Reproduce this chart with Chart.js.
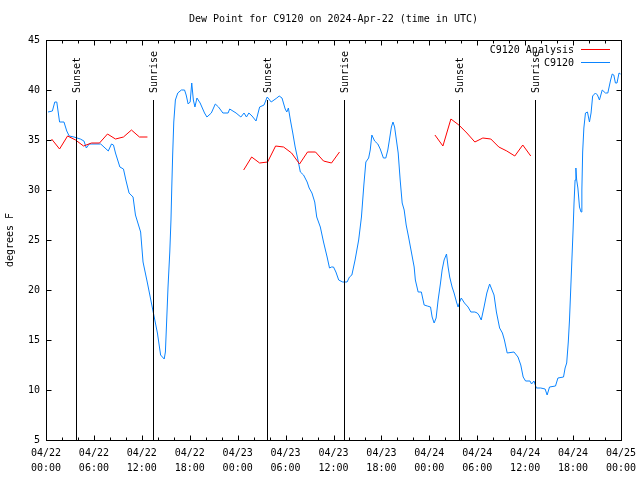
<!DOCTYPE html>
<html>
<head>
<meta charset="utf-8">
<title>Dew Point for C9120</title>
<script src="https://cdn.jsdelivr.net/npm/chart.js@4.4.1/dist/chart.umd.min.js"></script>
<style>
    body { margin: 0; background: #fff; }
    #wrap { width: 640px; height: 480px; }
</style>
</head>
<body>
<div id="wrap"><canvas id="dewChart" width="640" height="480"></canvas></div>
<script>
// hours since 04/22 00:00 UTC
const analysisHours = [0.7, 1.7, 2.7, 3.7, 4.7, 5.7, 6.7, 7.7, 8.7, 9.7, 10.7, 11.7, 12.7,
    18,
    24.75, 25.75, 26.75, 27.75, 28.75, 29.75, 30.75, 31.75, 32.75, 33.75, 34.75, 35.75, 36.75,
    42,
    48.7, 49.7, 50.7, 51.7, 52.7, 53.7, 54.7, 55.7, 56.7, 57.7, 58.7, 59.7, 60.7];
const analysisValues = [35.1, 34.1, 35.4, 35.0, 34.4, 34.7, 34.7, 35.6, 35.1, 35.3, 36.0, 35.3, 35.3,
    null,
    32.0, 33.3, 32.7, 32.8, 34.4, 34.3, 33.7, 32.6, 33.8, 33.8, 32.9, 32.7, 33.8,
    null,
    35.5, 34.4, 37.1, 36.5, 35.7, 34.8, 35.2, 35.1, 34.3, 33.9, 33.4, 34.5, 33.4];

const stationHours = [0.25, 0.8, 1.1, 1.35, 1.7, 2.25, 2.6, 2.9, 3.5, 4.3, 4.75, 5.05, 5.4, 6.85, 7.8, 8.2, 8.45, 8.7,
    9.25, 9.7, 10.0, 10.4, 10.9, 11.2, 11.85, 12.15, 12.7, 13.2, 13.55, 13.95, 14.35, 14.8, 14.95, 15.1, 15.28,
    15.5, 15.65, 15.75, 15.86, 16.0, 16.2, 16.5, 16.95, 17.35, 17.55, 17.8, 18.05, 18.25, 18.45, 18.65, 18.9,
    19.3, 19.85, 20.15, 20.7, 21.2, 21.6, 22.15, 22.8, 23.0, 23.8, 24.4, 24.8, 25.1, 25.4, 25.8, 26.3, 26.75,
    27.3, 27.7, 28.2, 28.9, 29.2, 29.55, 29.95, 30.15, 30.35, 30.6, 30.9, 31.2, 31.55, 31.85, 32.25, 32.7,
    32.95, 33.3, 33.65, 33.9, 34.35, 34.75, 35.2, 35.5, 35.75, 36.0, 36.3, 36.65, 37.15, 37.7, 38.0, 38.3,
    38.7, 39.15, 39.5, 39.8, 40.05, 40.4, 40.6, 40.8, 41.15, 41.55, 41.85, 42.25, 42.55, 42.8, 43.0, 43.25,
    43.45, 43.65, 44.1, 44.35, 44.6, 44.85, 45.1, 45.4, 45.75, 46.1, 46.25, 46.6, 47.0, 47.35, 47.75, 48.15,
    48.35, 48.6, 48.85, 49.1, 49.4, 49.6, 49.85, 50.15, 50.35, 50.55, 50.85, 51.1, 51.4, 51.6, 51.8, 52.0,
    52.4, 52.85, 53.2, 53.7, 54.0, 54.2, 54.5, 54.85, 55.2, 55.55, 55.85, 56.1, 56.4, 56.6, 56.8, 57.15,
    57.4, 57.75, 58.6, 59.1, 59.45, 59.75, 60.05, 60.6, 60.8, 61.1, 61.4, 61.95, 62.5, 62.75, 63.05, 63.8,
    64.1, 64.8, 65.0, 65.2, 65.4, 65.55, 65.7, 65.85, 66.0, 66.12, 66.25, 66.35, 66.45, 66.6, 66.8, 67.0,
    67.1, 67.2, 67.35, 67.55, 67.8, 68.05, 68.25, 68.45, 68.8, 69.05, 69.3, 69.65, 70.05, 70.35, 70.7,
    70.9, 71.1, 71.3, 71.5, 71.75, 71.95];
const stationValues = [37.8, 37.9, 38.8, 38.8, 36.8, 36.8, 35.9, 35.4, 35.3, 35.1, 34.9, 34.2, 34.6, 34.6, 33.9, 34.6, 34.5, 33.7,
    32.3, 32.1, 31.0, 29.7, 29.3, 27.5, 25.8, 22.8, 20.7, 18.7, 17.3, 15.7, 13.5, 13.1, 13.8, 16.7, 20.3,
    23.8, 27.0, 30.3, 33.5, 36.8, 39.0, 39.7, 40.0, 40.0, 39.5, 38.6, 38.8, 40.7, 39.0, 38.3, 39.2,
    38.7, 37.7, 37.3, 37.7, 38.6, 38.3, 37.7, 37.7, 38.1, 37.7, 37.3, 37.7, 37.3, 37.7, 37.4, 36.9, 38.3,
    38.5, 39.3, 38.8, 39.2, 39.4, 39.2, 38.1, 37.8, 38.2, 37.0, 35.7, 34.3, 33.0, 31.8, 31.5, 30.8,
    30.2, 29.7, 28.8, 27.3, 26.3, 24.8, 23.3, 22.2, 22.3, 22.3, 21.8, 21.0, 20.8, 20.8, 21.3, 21.5,
    23.0, 25.0, 27.3, 30.5, 32.8, 33.2, 34.0, 35.5, 34.9, 34.6, 34.1, 33.2, 33.2, 34.0, 35.0, 36.3,
    36.8, 36.3, 33.7, 31.0, 28.7, 28.0, 26.5, 25.3, 23.8, 22.3, 21.0, 19.8, 19.8, 18.5, 18.4, 18.3,
    17.3, 16.7, 17.2, 19.0, 20.7, 22.0, 23.0, 23.6, 22.3, 21.3, 20.3, 19.7, 18.8, 18.3, 18.8, 19.2,
    18.7, 18.3, 17.8, 17.8, 17.7, 17.5, 17.0, 18.3, 19.7, 20.6, 20.0, 19.5, 17.8, 17.0, 16.2, 15.7,
    15.0, 13.7, 13.8, 13.3, 12.5, 11.3, 10.9, 10.9, 10.6, 10.9, 10.2, 10.2, 10.1, 9.5, 10.3, 10.4,
    11.2, 11.3, 12.2, 12.7, 14.8, 17.0, 20.0, 23.0, 26.0, 28.7, 31.0, 32.2, 31.0, 30.2, 28.3, 27.8,
    30.0, 33.8, 36.2, 37.7, 37.8, 36.8, 37.7, 39.4, 39.7, 39.5, 39.0, 40.0, 39.7, 39.7, 41.0,
    41.6, 41.5, 40.7, 40.7, 41.7, 41.6];

// sunset / sunrise markers, hours since 04/22 00:00
const eventHours = [3.7, 13.38, 27.68, 37.3, 51.7, 61.23];
const eventLabels = ["Sunset", "Sunrise", "Sunset", "Sunrise", "Sunset", "Sunrise"];

const yTicks = [5, 10, 15, 20, 25, 30, 35, 40, 45];
const chartTitle = "Dew Point for C9120 on 2024-Apr-22 (time in UTC)";
const yTitle = "degrees F";

const monoFont = "'DejaVu Sans Mono', 'Liberation Mono', monospace";

function to_points(xs, ys) {
    return xs.map((x, i) => ({ x: x, y: ys[i] }));
}

function tick_label(value) {
    const day = 22 + Math.floor(value / 24);
    const hour = value % 24;
    return ["04/" + day, String(hour).padStart(2, "0") + ":00"];
}

// frame, inward ticks, sun markers, legend and titles in gnuplot style
const decorPlugin = {
    id: "decor",
    afterDatasetsDraw(chart) {
        const ctx = chart.ctx;
        const area = chart.chartArea;
        const xs = chart.scales.x;
        const ys = chart.scales.y;
        const L = Math.round(area.left) + 0.5;
        const R = Math.round(area.right) + 0.5;
        const T = Math.round(area.top) + 0.5;
        const B = Math.round(area.bottom) + 0.5;

        ctx.save();
        ctx.strokeStyle = "#000";
        ctx.lineWidth = 1;

        // sunset / sunrise lines
        ctx.font = "10px " + monoFont;
        ctx.fillStyle = "#000";
        eventHours.forEach((h, i) => {
            const px = Math.round(xs.getPixelForValue(h)) + 0.5;
            ctx.beginPath();
            ctx.moveTo(px, 100);
            ctx.lineTo(px, B);
            ctx.stroke();
            ctx.save();
            ctx.translate(px + 1, 93);
            ctx.rotate(-Math.PI / 2);
            ctx.textAlign = "left";
            ctx.textBaseline = "middle";
            ctx.fillText(eventLabels[i], 0, 0);
            ctx.restore();
        });

        // border
        ctx.strokeRect(L, T, R - L, B - T);

        // y ticks on both sides
        ctx.beginPath();
        yTicks.forEach(v => {
            const py = Math.round(ys.getPixelForValue(v)) + 0.5;
            ctx.moveTo(L, py); ctx.lineTo(L + 5, py);
            ctx.moveTo(R, py); ctx.lineTo(R - 5, py);
        });
        // x ticks every 2 hours, longer every 6
        for (let h = 0; h <= 72; h += 2) {
            const px = Math.round(xs.getPixelForValue(h)) + 0.5;
            const len = h % 6 === 0 ? 5 : 3;
            ctx.moveTo(px, B); ctx.lineTo(px, B - len);
            ctx.moveTo(px, T); ctx.lineTo(px, T + len);
        }
        ctx.stroke();

        // legend, text right aligned with sample line to its right
        ctx.textAlign = "right";
        ctx.textBaseline = "middle";
        chart.data.datasets.forEach((ds, i) => {
            const ly = 49 + i * 13;
            ctx.fillStyle = "#000";
            ctx.fillText(ds.label, 574, ly + 1);
            ctx.strokeStyle = ds.borderColor;
            ctx.beginPath();
            ctx.moveTo(581, ly + 0.5);
            ctx.lineTo(610, ly + 0.5);
            ctx.stroke();
        });

        // title
        ctx.fillStyle = "#000";
        ctx.textAlign = "center";
        ctx.fillText(chartTitle, (area.left + area.right) / 2, 19);

        // y axis title
        ctx.save();
        ctx.translate(10, 240);
        ctx.rotate(-Math.PI / 2);
        ctx.fillText(yTitle, 0, 0);
        ctx.restore();

        ctx.restore();
    }
};

const ctx = document.getElementById("dewChart").getContext("2d");
new Chart(ctx, {
    type: "line",
    data: {
        datasets: [{
            label: "C9120 Analysis",
            data: to_points(analysisHours, analysisValues),
            borderColor: "#ff0000",
            borderWidth: 1,
            pointRadius: 0,
            spanGaps: false,
            tension: 0
        }, {
            label: "C9120",
            data: to_points(stationHours, stationValues),
            borderColor: "#0a84ff",
            borderWidth: 1,
            pointRadius: 0,
            tension: 0
        }]
    },
    options: {
        responsive: false,
        animation: false,
        devicePixelRatio: 1,
        layout: {
            padding: { top: 40, right: 19, bottom: 0, left: 0 }
        },
        plugins: {
            legend: { display: false },
            title: { display: false },
            tooltip: { enabled: false }
        },
        scales: {
            x: {
                type: "linear",
                min: 0,
                max: 72,
                grid: { display: false, drawTicks: false },
                border: { display: false },
                afterFit: scale => {
                    scale.height = 40;
                    scale.paddingLeft = 0;
                    scale.paddingRight = 0;
                },
                ticks: {
                    stepSize: 6,
                    autoSkip: false,
                    maxRotation: 0,
                    padding: 6,
                    color: "#000",
                    font: { family: monoFont, size: 10, lineHeight: 1.5 },
                    callback: value => tick_label(value)
                }
            },
            y: {
                min: 5,
                max: 45,
                grid: { display: false, drawTicks: false },
                border: { display: false },
                afterFit: scale => { scale.width = 46; },
                ticks: {
                    stepSize: 5,
                    padding: 6,
                    color: "#000",
                    font: { family: monoFont, size: 10 }
                }
            }
        }
    },
    plugins: [decorPlugin]
});
</script>
</body>
</html>
